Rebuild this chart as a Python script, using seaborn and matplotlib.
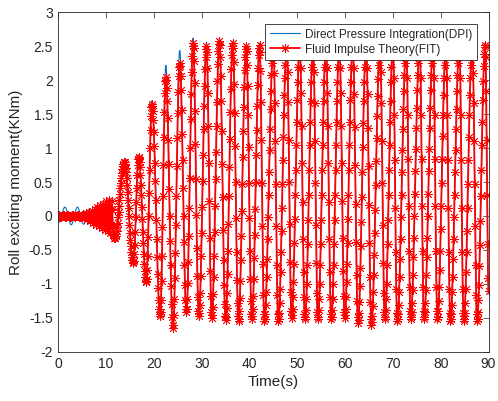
import numpy as np
import pandas as pd
import matplotlib
matplotlib.use("Agg")
import matplotlib.pyplot as plt
import seaborn as sns
from matplotlib.ticker import FuncFormatter

# ---- turning points of the roll exciting moment (time in s, moment in KNm) ----
# start-up ripple, Direct Pressure Integration
dpi_early_t = [0.0, 1.4, 2.7, 4.0, 5.3, 6.6, 7.9, 9.1, 10.3, 11.1]
dpi_early_v = [-0.10, 0.13, -0.13, 0.13, -0.12, 0.11, -0.12, 0.15, -0.20, 0.10]

# start-up ripple, Fluid Impulse Theory
fit_early_t = [0.0, 0.5, 1.0, 1.5, 2.0, 2.5, 3.0, 3.5, 4.0, 4.5, 5.0, 5.4,
               5.8, 6.1, 6.4, 6.7, 7.0, 7.3, 7.6, 7.9, 8.2, 8.5, 8.8, 9.1,
               9.4, 9.7, 10.0, 10.3, 10.6, 10.9, 11.2, 11.5]
fit_early_v = [0.01, -0.01, 0.01, -0.01, 0.01, -0.01, 0.01, -0.01, 0.01, -0.02,
               0.02, -0.03, 0.04, -0.05, 0.06, -0.08, 0.08, -0.10, 0.10, -0.13,
               0.13, -0.15, 0.16, -0.17, 0.18, -0.20, 0.22, -0.22, 0.24, -0.25,
               0.22, -0.28]

# main roll response: troughs and crests
trough_t = [11.8, 15.7, 18.4, 21.3, 24.0, 26.8, 29.4, 32.1, 35.0, 37.7,
            40.5, 43.1, 46.0, 48.8, 51.6, 54.3, 57.1, 59.9, 62.7, 65.5,
            68.3, 70.9, 73.7, 76.5, 79.3, 82.0, 84.8, 87.6]
trough_dpi = [-0.30, -0.72, -1.00, -1.50, -1.66, -1.45, -1.50, -1.52, -1.55, -1.57,
              -1.54, -1.57, -1.57, -1.52, -1.54, -1.54, -1.54, -1.52, -1.59, -1.61,
              -1.54, -1.57, -1.54, -1.54, -1.54, -1.57, -1.57, -1.57]
trough_fit = [-0.33, -0.69, -0.97, -1.47, -1.65, -1.42, -1.47, -1.50, -1.53, -1.55,
              -1.52, -1.55, -1.55, -1.50, -1.52, -1.52, -1.52, -1.50, -1.57, -1.60,
              -1.52, -1.55, -1.52, -1.52, -1.52, -1.55, -1.55, -1.55]

peak_t = [13.8, 16.8, 19.6, 22.5, 25.4, 28.2, 31.0, 33.7, 36.5, 39.3,
          42.1, 45.0, 47.8, 50.5, 53.3, 56.0, 58.8, 61.6, 64.4, 67.3,
          70.0, 72.8, 75.6, 78.4, 81.1, 83.9, 86.6, 89.3]
peak_dpi = [0.82, 0.90, 1.70, 2.22, 2.44, 2.62, 2.56, 2.62, 2.57, 2.53,
            2.55, 2.53, 2.53, 2.53, 2.53, 2.53, 2.53, 2.53, 2.53, 2.53,
            2.53, 2.53, 2.53, 2.53, 2.53, 2.53, 2.53, 2.55]
peak_fit = [0.80, 0.87, 1.65, 2.05, 2.25, 2.55, 2.50, 2.58, 2.55, 2.50,
            2.52, 2.50, 2.50, 2.50, 2.50, 2.50, 2.50, 2.50, 2.50, 2.50,
            2.50, 2.50, 2.50, 2.50, 2.50, 2.50, 2.50, 2.52]

end_t = 90.0
end_dpi = -1.15
end_fit = -1.10

x_ticks = list(range(0, 91, 10))
y_ticks = [-2, -1.5, -1, -0.5, 0, 0.5, 1, 1.5, 2, 2.5, 3]

DPI_LABEL = "Direct Pressure Integration(DPI)"
FIT_LABEL = "Fluid Impulse Theory(FIT)"
DPI_COLOR = "#0072BD"
FIT_COLOR = "#FF0000"
ASTERISK = (8, 2, 0)


def turning_point_knots(early_t, early_v, trough_v, peak_v, last_v):
    t = list(early_t) + list(trough_t) + list(peak_t) + [end_t]
    v = list(early_v) + list(trough_v) + list(peak_v) + [last_v]
    order = np.argsort(t)
    return np.asarray(t)[order], np.asarray(v)[order]


def through_turning_points(knot_t, knot_v, t):
    """Smooth half-cosine swings between successive turning points."""
    i = np.clip(np.searchsorted(knot_t, t, side="right") - 1, 0, len(knot_t) - 2)
    t0, t1 = knot_t[i], knot_t[i + 1]
    v0, v1 = knot_v[i], knot_v[i + 1]
    s = np.clip((t - t0) / (t1 - t0), 0.0, 1.0)
    return v0 + (v1 - v0) * (1.0 - np.cos(np.pi * s)) / 2.0


dpi_kt, dpi_kv = turning_point_knots(dpi_early_t, dpi_early_v, trough_dpi, peak_dpi, end_dpi)
fit_kt, fit_kv = turning_point_knots(fit_early_t, fit_early_v, trough_fit, peak_fit, end_fit)

t_dpi = np.linspace(0.0, 90.0, 9001)                 # DPI output step 0.01 s
t_fit = np.round(np.arange(0.0, 90.0001, 0.1), 3)    # FIT output step 0.1 s

df_dpi = pd.DataFrame({"Time": t_dpi,
                       "Moment": through_turning_points(dpi_kt, dpi_kv, t_dpi)})
df_fit = pd.DataFrame({"Time": t_fit,
                       "Moment": through_turning_points(fit_kt, fit_kv, t_fit)})

sns.set_theme(style="white")
plt.rcParams["font.family"] = ["Liberation Sans", "DejaVu Sans"]
plt.rcParams["axes.unicode_minus"] = False

ink = "#262626"
fig = plt.figure(figsize=(4.98, 4.01), dpi=100)
ax = fig.add_axes([0.117, 0.123, 0.864, 0.846])

sns.lineplot(data=df_dpi, x="Time", y="Moment", ax=ax, color=DPI_COLOR,
             linewidth=0.8, estimator=None, sort=False, legend=False)
sns.lineplot(data=df_fit, x="Time", y="Moment", ax=ax, color=FIT_COLOR,
             linewidth=1.3, estimator=None, sort=False, legend=False,
             marker=ASTERISK, markersize=6.5, markeredgecolor=FIT_COLOR,
             markeredgewidth=0.6, markerfacecolor="none")

dpi_line, fit_line = ax.get_lines()[:2]
dpi_line.set_color(DPI_COLOR)
fit_line.set_color(FIT_COLOR)
fit_line.set_markeredgecolor(FIT_COLOR)

ax.set_xlim(0, 90)
ax.set_ylim(-2, 3)
ax.set_xticks(x_ticks)
ax.set_yticks(y_ticks)
ax.xaxis.set_major_formatter(FuncFormatter(lambda v, p: f"{v:g}"))
ax.yaxis.set_major_formatter(FuncFormatter(lambda v, p: f"{v:g}"))
ax.tick_params(direction="in", top=True, right=True, length=4, width=0.5,
               colors=ink, labelsize=10, pad=4)
for sp in ax.spines.values():
    sp.set_visible(True)
    sp.set_color(ink)
    sp.set_linewidth(0.6)

ax.set_xlabel("Time(s)", fontsize=11, color=ink, labelpad=3)
ax.set_ylabel("Roll exciting moment(KNm)", fontsize=11, color=ink, labelpad=4)

leg = ax.legend([dpi_line, fit_line], [DPI_LABEL, FIT_LABEL],
                loc="upper right", bbox_to_anchor=(1 - 12 / 430, 1 - 12 / 339.4),
                borderaxespad=0, fontsize=8.5, frameon=True, fancybox=False,
                framealpha=1, edgecolor=ink, handlelength=2.6, handletextpad=0.4,
                borderpad=0.35, labelspacing=0.25)
leg.get_frame().set_linewidth(0.6)
for txt in leg.get_texts():
    txt.set_color(ink)

fig.savefig("out.png", dpi=100)
